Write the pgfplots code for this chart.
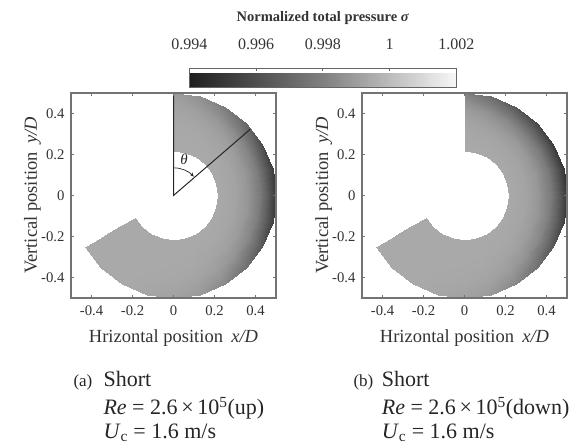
\documentclass[border=0pt]{standalone}
\usepackage{fontspec}
\setmainfont{Liberation Serif}
\usepackage{pgfplots}
\pgfplotsset{compat=1.18}
\usepackage{pgfplotstable}
\usetikzlibrary{arrows.meta}

% angle (deg), radius (r/D), normalized total pressure
\pgfplotstableread{
a r c
90 0.215 0.9994
90 0.30 0.99938
90 0.36 0.99934
90 0.42 0.99924
90 0.46 0.99911
90 0.50 0.99896
75 0.215 0.9994
75 0.30 0.99936
75 0.36 0.99928
75 0.42 0.99908
75 0.46 0.99882
75 0.50 0.99852
60 0.215 0.9994
60 0.30 0.99933
60 0.36 0.99918
60 0.42 0.99885
60 0.46 0.99838
60 0.50 0.99786
45 0.215 0.9994
45 0.30 0.99929
45 0.36 0.99906
45 0.42 0.99853
45 0.46 0.99780
45 0.50 0.99698
30 0.215 0.9994
30 0.30 0.99924
30 0.36 0.99890
30 0.42 0.99814
30 0.46 0.99708
30 0.50 0.99588
15 0.215 0.9994
15 0.30 0.99921
15 0.36 0.99881
15 0.42 0.99790
15 0.46 0.99664
15 0.50 0.99522
0 0.215 0.9994
0 0.30 0.99920
0 0.36 0.99878
0 0.42 0.99782
0 0.46 0.99650
0 0.50 0.99500
-15 0.215 0.9994
-15 0.30 0.99922
-15 0.36 0.99883
-15 0.42 0.99795
-15 0.46 0.99673
-15 0.50 0.99535
-30 0.215 0.9994
-30 0.30 0.99926
-30 0.36 0.99897
-30 0.42 0.99829
-30 0.46 0.99737
-30 0.50 0.99632
-45 0.215 0.9994
-45 0.30 0.99931
-45 0.36 0.99912
-45 0.42 0.99869
-45 0.46 0.99809
-45 0.50 0.99742
-60 0.215 0.9994
-60 0.30 0.99935
-60 0.36 0.99924
-60 0.42 0.99900
-60 0.46 0.99867
-60 0.50 0.99830
-75 0.215 0.9994
-75 0.30 0.99938
-75 0.36 0.99933
-75 0.42 0.99921
-75 0.46 0.99905
-75 0.50 0.99887
-90 0.215 0.9994
-90 0.30 0.99939
-90 0.36 0.99936
-90 0.42 0.99931
-90 0.46 0.99923
-90 0.50 0.99914
-105 0.215 0.9994
-105 0.30 0.99940
-105 0.36 0.99938
-105 0.42 0.99935
-105 0.46 0.99931
-105 0.50 0.99927
-120 0.215 0.9994
-120 0.30 0.9994
-120 0.36 0.9994
-120 0.42 0.9994
-120 0.46 0.9994
-120 0.50 0.9994
-135 0.215 0.9994
-135 0.30 0.9994
-135 0.36 0.9994
-135 0.42 0.9994
-135 0.46 0.9994
-135 0.50 0.9994
-150 0.215 0.9994
-150 0.30 0.9994
-150 0.36 0.9994
-150 0.42 0.9994
-150 0.46 0.9994
-150 0.50 0.9994
}\tabA

\pgfplotstableread{
a r c
90 0.215 0.9994
90 0.30 0.99934
90 0.36 0.99921
90 0.42 0.99893
90 0.46 0.99853
90 0.50 0.99808
75 0.215 0.9994
75 0.30 0.99930
75 0.36 0.99909
75 0.42 0.99861
75 0.46 0.99795
75 0.50 0.99720
60 0.215 0.9994
60 0.30 0.99926
60 0.36 0.99897
60 0.42 0.99829
60 0.46 0.99737
60 0.50 0.99632
45 0.215 0.9994
45 0.30 0.99923
45 0.36 0.99887
45 0.42 0.99806
45 0.46 0.99693
45 0.50 0.99566
30 0.215 0.9994
30 0.30 0.99921
30 0.36 0.99881
30 0.42 0.99790
30 0.46 0.99664
30 0.50 0.99522
15 0.215 0.9994
15 0.30 0.99920
15 0.36 0.99878
15 0.42 0.99782
15 0.46 0.99650
15 0.50 0.99500
0 0.215 0.9994
0 0.30 0.99920
0 0.36 0.99878
0 0.42 0.99782
0 0.46 0.99650
0 0.50 0.99500
-15 0.215 0.9994
-15 0.30 0.99922
-15 0.36 0.99884
-15 0.42 0.99798
-15 0.46 0.99679
-15 0.50 0.99544
-30 0.215 0.9994
-30 0.30 0.99926
-30 0.36 0.99897
-30 0.42 0.99829
-30 0.46 0.99737
-30 0.50 0.99632
-45 0.215 0.9994
-45 0.30 0.99931
-45 0.36 0.99912
-45 0.42 0.99869
-45 0.46 0.99809
-45 0.50 0.99742
-60 0.215 0.9994
-60 0.30 0.99935
-60 0.36 0.99924
-60 0.42 0.99900
-60 0.46 0.99867
-60 0.50 0.99830
-75 0.215 0.9994
-75 0.30 0.99938
-75 0.36 0.99933
-75 0.42 0.99921
-75 0.46 0.99905
-75 0.50 0.99887
-90 0.215 0.9994
-90 0.30 0.99939
-90 0.36 0.99936
-90 0.42 0.99931
-90 0.46 0.99923
-90 0.50 0.99914
-105 0.215 0.9994
-105 0.30 0.99940
-105 0.36 0.99938
-105 0.42 0.99935
-105 0.46 0.99931
-105 0.50 0.99927
-120 0.215 0.9994
-120 0.30 0.9994
-120 0.36 0.9994
-120 0.42 0.9994
-120 0.46 0.9994
-120 0.50 0.9994
-135 0.215 0.9994
-135 0.30 0.9994
-135 0.36 0.9994
-135 0.42 0.9994
-135 0.46 0.9994
-135 0.50 0.9994
-150 0.215 0.9994
-150 0.30 0.9994
-150 0.36 0.9994
-150 0.42 0.9994
-150 0.46 0.9994
-150 0.50 0.9994
}\tabB

\pgfplotsset{
  panel/.style={
    scale only axis, width=205pt, height=205pt,
    xmin=-0.5, xmax=0.5, ymin=-0.5, ymax=0.5,
    xtick={-0.4,-0.2,0,0.2,0.4}, xticklabels={-0.4,-0.2,0,0.2,0.4},
    ytick={-0.4,-0.2,0,0.2,0.4}, yticklabels={-0.4,-0.2,0,0.2,0.4},
    tick align=inside, major tick length=3pt,
    axis line style={black!55, line width=1.2pt},
    every tick/.style={black!55, line width=0.8pt},
    tick label style={font=\fontsize{14.7}{16}\selectfont, text=black!80},
    xticklabel style={yshift=-4pt},
    yticklabel style={xshift=-3pt},
    xlabel={Hrizontal position\hspace{0.45em}\textit{x/D}},
    ylabel={Vertical position\hspace{0.45em}\textit{y/D}},
    label style={font=\fontsize{18.5}{20}\selectfont, text=black!80},
    xlabel style={at={([yshift=-45pt]axis description cs:0.5,0)}, anchor=base},
    ylabel style={at={([xshift=-34pt]axis description cs:0,0.5)}, anchor=base},
    colormap={mygray}{gray(0cm)=(0.12); gray(1cm)=(0.5); gray(2cm)=(0.97)},
    point meta min=0.994, point meta max=1.002,
    axis on top,
  },
  ring/.style={surf, shader=interp, data cs=polar, mesh/rows=17, mesh/cols=6, point meta=explicit},
}

\begin{document}
\begin{tikzpicture}[x=1pt,y=1pt]
\path[use as bounding box] (0,0) rectangle (582,446);

\begin{axis}[panel, at={(71pt,148pt)}, anchor=south west,
  colorbar horizontal,
  colorbar style={
    at={(parent axis.north west)}, anchor=south west,
    xshift=118.3pt, yshift=14pt,
    scale only axis, width=267pt, height=19pt,
    xtick={0.994,0.996,0.998,1,1.002},
    xticklabels={0.994,0.996,0.998,1,1.002},
    xtick pos=right, xticklabel pos=right,
    tick align=inside, major tick length=2.5pt,
    axis line style={black!60, line width=1.3pt},
    every tick/.style={black!60, line width=0.8pt},
    xticklabel style={anchor=base, yshift=19.3pt, font=\fontsize{16}{18}\selectfont, text=black!80},
    title={Normalized total pressure \textit{σ}},
    title style={at={(0.5,1)}, anchor=base, yshift=41pt, font=\bfseries\fontsize{14.5}{16}\selectfont, text=black!80},
  }]
  \addplot[ring] table[x=a, y=r, meta=c] {\tabA};
  \addplot[black!85, line width=1pt] coordinates {(0,0.5) (0,0) (0.373,0.322)};
  \draw[black!85, line width=0.7pt, -{Stealth[length=4pt,width=3.5pt]}] (axis cs:0,0.135) arc[start angle=90, end angle=43, radius=27.7pt];
  \node[font=\fontsize{15}{16}\selectfont, text=black!85] at (axis cs:0.052,0.174) {\textit{θ}};
\end{axis}

\begin{axis}[panel, at={(362pt,148pt)}, anchor=south west]
  \addplot[ring] table[x=a, y=r, meta=c] {\tabB};
\end{axis}

\begin{scope}[text=black!85]
\node[anchor=base west, font=\fontsize{17}{18}\selectfont] at (70,59.3) {(a)};
\node[anchor=base west, font=\fontsize{22}{24}\selectfont] at (100,59.3) {Short};
\node[anchor=base west, font=\fontsize{22}{24}\selectfont] at (100,31) {\textit{Re} = 2.6\,×\,10\textsuperscript{5}(up)};
\node[anchor=base west, font=\fontsize{22}{24}\selectfont] at (100,7.7) {\textit{U}\textsubscript{c} = 1.6 m/s};
\node[anchor=base west, font=\fontsize{17}{18}\selectfont] at (350,59.3) {(b)};
\node[anchor=base west, font=\fontsize{22}{24}\selectfont] at (378.3,59.3) {Short};
\node[anchor=base west, font=\fontsize{22}{24}\selectfont] at (378.3,31) {\textit{Re} = 2.6\,×\,10\textsuperscript{5}(down)};
\node[anchor=base west, font=\fontsize{22}{24}\selectfont] at (378.3,7.7) {\textit{U}\textsubscript{c} = 1.6 m/s};
\end{scope}
\end{tikzpicture}
\end{document}
